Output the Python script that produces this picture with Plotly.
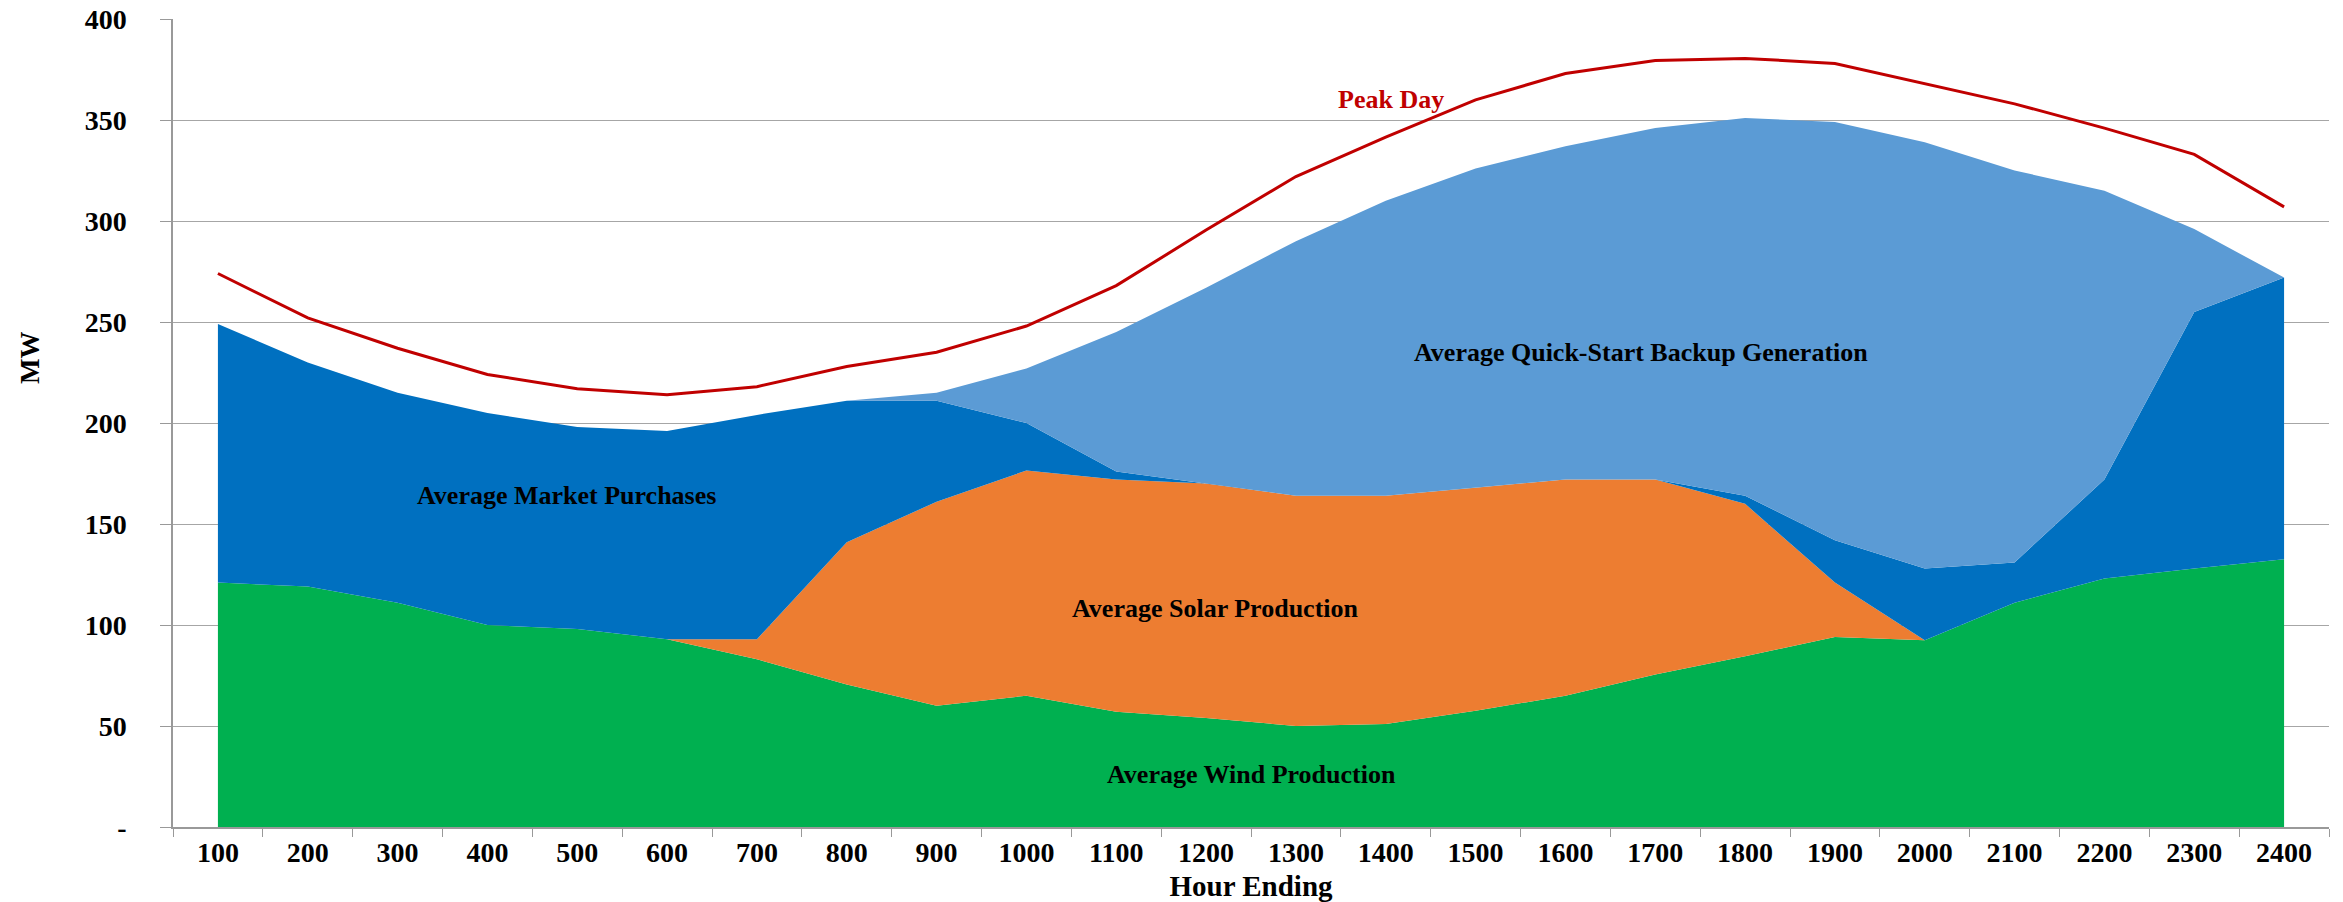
import plotly.graph_objects as go

hours = ["100", "200", "300", "400", "500", "600", "700", "800", "900", "1000", "1100", "1200",
         "1300", "1400", "1500", "1600", "1700", "1800", "1900", "2000", "2100", "2200", "2300", "2400"]

wind = [121, 119, 111, 100, 98, 93, 83, 70.5, 60, 65, 57, 54,
        50, 51, 57.5, 65, 75.5, 84.5, 94, 92.5, 111, 123, 128, 132.5]
solar = [0, 0, 0, 0, 0, 0, 10, 70.5, 101, 111.5, 115, 116,
         114, 113, 110.5, 107, 96.5, 75.5, 27, 0, 0, 0, 0, 0]
market = [128, 111, 104, 105, 100, 103, 111, 70, 50, 23.5, 4, 0,
          0, 0, 0, 0, 0, 4, 21, 35.5, 20, 49, 127, 139.5]
backup = [0, 0, 0, 0, 0, 0, 0, 0, 4, 27, 69, 97,
          126, 146, 158, 165, 174, 187, 207, 211, 194, 143, 41, 0]
peak = [274, 252, 237, 224, 217, 214, 218, 228, 235, 248, 268, 295.5,
        322, 341.5, 360, 373, 379.5, 380.5, 378, 368, 358, 346, 333, 307]

y_tickvals = [0, 50, 100, 150, 200, 250, 300, 350, 400]
y_ticktext = ["-", "50", "100", "150", "200", "250", "300", "350", "400"]

FONT = "Liberation Serif, Times New Roman, serif"

fig = go.Figure()
series = [
    ("Average Wind Production", wind, "#00B050"),
    ("Average Solar Production", solar, "#ED7D31"),
    ("Average Market Purchases", market, "#0070C0"),
    ("Average Quick-Start Backup Generation", backup, "#5B9BD5"),
]
for name, vals, col in series:
    fig.add_trace(go.Scatter(
        x=hours, y=vals, name=name, mode="lines", stackgroup="one",
        line=dict(width=0, color=col), fillcolor=col, showlegend=False,
    ))

fig.add_trace(go.Scatter(
    x=hours, y=peak, name="Peak Day", mode="lines",
    line=dict(color="#C00000", width=3), showlegend=False,
))

ann_font = dict(family=FONT, size=26, color="#000000", weight="bold")
annotations = [
    dict(text="Peak Day", x=13.06, y=360, font=dict(family=FONT, size=26, color="#C00000", weight="bold")),
    dict(text="Average Market Purchases", x=3.88, y=164, font=ann_font),
    dict(text="Average Quick-Start Backup Generation", x=15.84, y=235, font=ann_font),
    dict(text="Average Solar Production", x=11.11, y=108, font=ann_font),
    dict(text="Average Wind Production", x=11.5, y=26, font=ann_font),
]
for a in annotations:
    fig.add_annotation(xref="x", yref="y", showarrow=False, xanchor="center", yanchor="middle", **a)

# y-axis title placed like the reference (above the vertical centre)
fig.add_annotation(text="MW", xref="paper", yref="paper", x=-0.066, y=0.58,
                   textangle=-90, showarrow=False, xanchor="center", yanchor="middle",
                   font=dict(family=FONT, size=27, color="#000000", weight="bold"))

fig.update_layout(
    width=2343, height=902,
    margin=dict(l=173, r=14, t=19, b=75),
    plot_bgcolor="#FFFFFF", paper_bgcolor="#FFFFFF",
    font=dict(family=FONT, color="#000000"),
)
fig.update_xaxes(
    type="category", range=[-0.5, 23.5], tickson="boundaries",
    ticks="outside", ticklen=8, tickcolor="#999999",
    showline=True, linecolor="#999999", linewidth=1.5,
    showgrid=False, zeroline=False, automargin=False,
    tickfont=dict(family=FONT, size=28, color="#000000", weight="bold"),
    title=dict(text="Hour Ending", font=dict(family=FONT, size=29, color="#000000", weight="bold"), standoff=10),
)
fig.update_yaxes(
    range=[0, 400], tickvals=y_tickvals, ticktext=y_ticktext,
    ticks="outside", ticklen=11, tickcolor="#999999",
    showline=True, linecolor="#999999", linewidth=1.5,
    showgrid=True, gridcolor="#A6A6A6", gridwidth=1, zeroline=False, automargin=False,
    ticklabelstandoff=28, ticklabeloverflow="allow",
    tickfont=dict(family=FONT, size=28, color="#000000", weight="bold"),
)

fig.write_html(
    "out.html",
    config={"displayModeBar": False},
    post_script="document.body.style.margin='0px';document.body.style.overflow='hidden';",
)
